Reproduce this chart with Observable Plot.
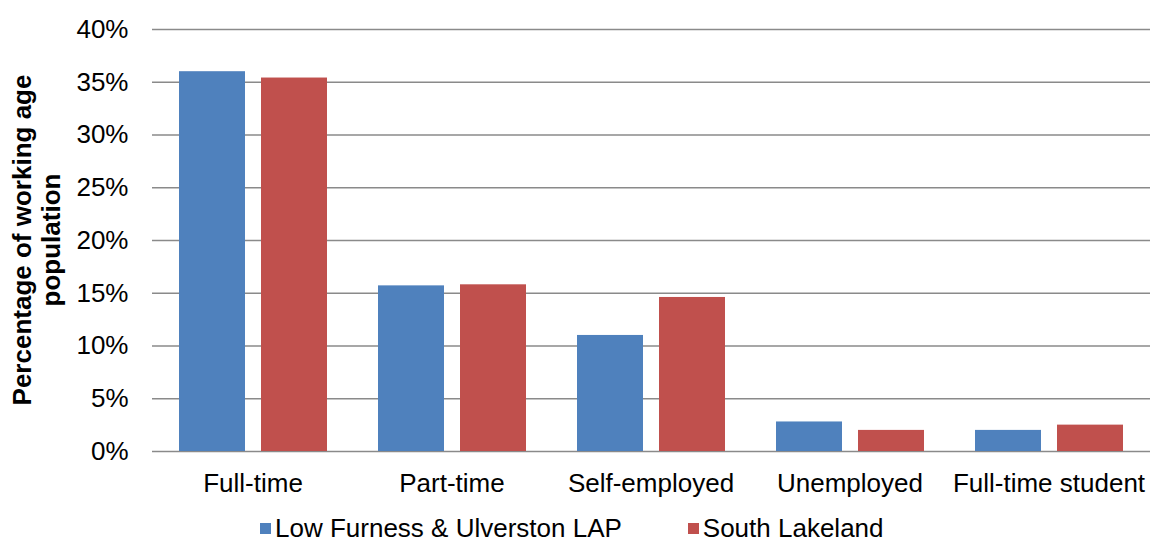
<!DOCTYPE html>
<html><head><meta charset="utf-8">
<script src="https://cdn.jsdelivr.net/npm/d3@7"></script>
<script src="https://cdn.jsdelivr.net/npm/@observablehq/plot@0.6"></script>
<style>
body{margin:0;background:#fff;font-family:"Liberation Sans",Arial,sans-serif;}
#wrap{position:relative;width:1150px;height:545px;overflow:hidden;}
.layer{position:absolute;left:0;top:0;}
#ylabel{position:absolute;left:37px;top:240px;transform:translate(-50%,-50%) rotate(-90deg);font-weight:bold;font-size:26px;line-height:29px;text-align:center;white-space:nowrap;color:#000;}
#legend{position:absolute;top:515px;left:260px;font-size:26px;line-height:26px;white-space:nowrap;color:#000;}
.sw{display:inline-block;width:11px;height:11px;vertical-align:3px;margin-right:4px;}
.item{display:inline-block;}
.item + .item{margin-left:66px;}
</style>
</head><body>
<div id="wrap">
  <div id="grid" class="layer"></div>
  <div id="bars" class="layer"></div>
  <div id="ylabel">Percentage of working age<br>population</div>
  <div id="legend"></div>
</div>
<script>
const categories = ["Full-time", "Part-time", "Self-employed", "Unemployed", "Full-time student"];
const series = ["Low Furness & Ulverston LAP", "South Lakeland"];
const lowFurness = [36.0, 15.7, 11.0, 2.8, 2.0];
const southLakeland = [35.4, 15.8, 14.6, 2.0, 2.5];
const yTicks = [0, 5, 10, 15, 20, 25, 30, 35, 40];
const colors = ["#4F81BD", "#C0504D"];

const data = [];
categories.forEach((c, i) => {
  data.push({category: c, series: series[0], value: lowFurness[i]});
  data.push({category: c, series: series[1], value: southLakeland[i]});
});

const common = {
  width: 1150,
  height: 510,
  marginTop: 29,
  marginBottom: 59,
  marginLeft: 152,
  marginRight: 0,
  style: {fontFamily: "'Liberation Sans', Arial, sans-serif", fontSize: "26px", color: "#000", background: "transparent", overflow: "visible"}
};

const gridChart = Plot.plot({
  ...common,
  y: {domain: [0, 40], ticks: yTicks, label: null, tickFormat: d => d + "%", tickSize: 0, tickPadding: 24},
  marks: [
    Plot.ruleY(yTicks, {stroke: "#8a8a8a", strokeWidth: 1.4})
  ]
});
document.getElementById("grid").appendChild(gridChart);

const barChart = Plot.plot({
  ...common,
  fx: {domain: categories, paddingInner: 0.25, paddingOuter: 0.125, label: null, axis: "bottom", tickSize: 0, tickPadding: 22},
  x: {domain: series, paddingInner: 0.2, paddingOuter: 0, axis: null},
  y: {domain: [0, 40], axis: null},
  color: {domain: series, range: colors},
  marks: [
    Plot.barY(data, {fx: "category", x: "series", y: "value", fill: "series"})
  ]
});
document.getElementById("bars").appendChild(barChart);

const legend = document.getElementById("legend");
series.forEach((s, i) => {
  const item = document.createElement("span");
  item.className = "item";
  const sw = document.createElement("span");
  sw.className = "sw";
  sw.style.background = colors[i];
  item.appendChild(sw);
  item.appendChild(document.createTextNode(s));
  legend.appendChild(item);
});
</script>
</body></html>
